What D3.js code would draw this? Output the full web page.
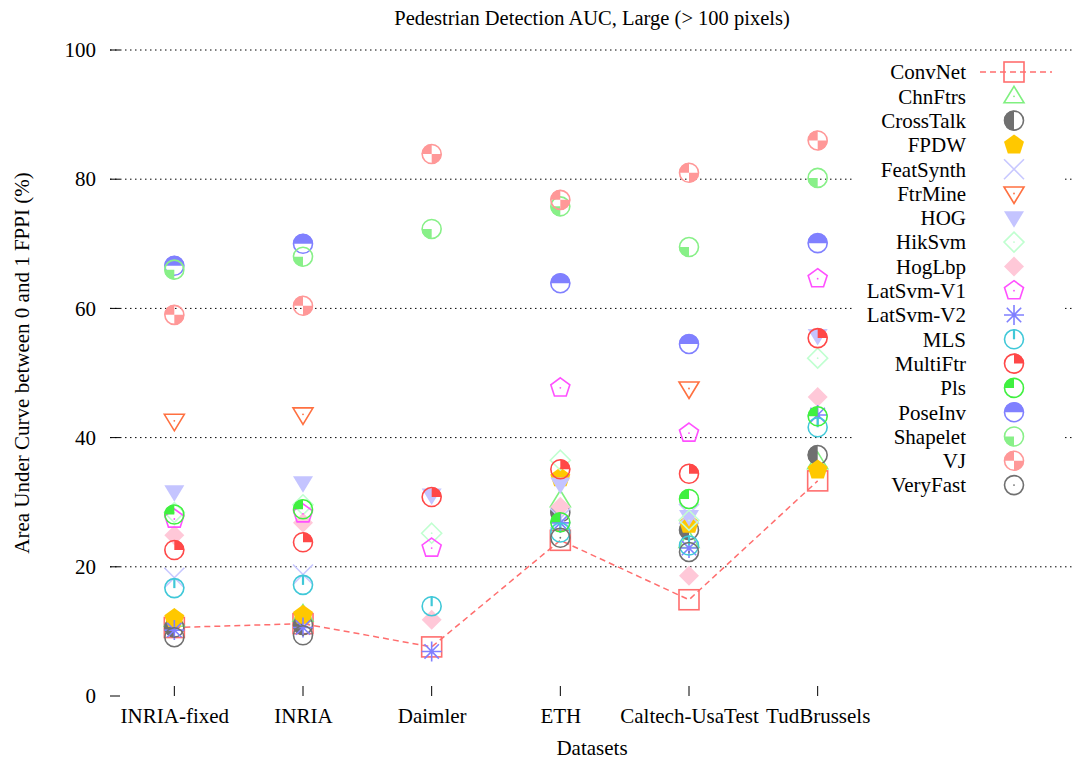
<!DOCTYPE html>
<html>
<head>
<meta charset="utf-8">
<script src="https://cdn.jsdelivr.net/npm/d3@7"></script>
<style>
  html, body { margin: 0; padding: 0; background: #fff; }
  svg text { font-family: "Liberation Serif", "DejaVu Serif", serif; fill: #000; }
</style>
</head>
<body>
<svg id="chart" width="1075" height="763"></svg>
<script>
// Datasets on the x axis
const datasets = ["INRIA-fixed", "INRIA", "Daimler", "ETH", "Caltech-UsaTest", "TudBrussels"];

// AUC (%) per detector, one value per dataset (null = not evaluated)
const convNet   = [10.6, 11.2,  7.6, 24.1, 14.9, 33.3];
const chnFtrs   = [11.8, 12.6, null, 30.3, 24.0, 36.2];
const crossTalk = [10.6, 11.0, null, 28.4, 25.7, 37.3];
const fpdw      = [12.0, 12.5, null, 33.8, 26.6, 35.0];
const featSynth = [18.3, 18.8, null, 27.5, 28.2, null];
const ftrMine   = [42.6, 43.6, null, null, 47.6, null];
const hog       = [31.6, 33.0, 31.1, 32.8, 27.8, 55.8];
const hikSvm    = [28.4, 29.6, 25.2, 36.5, 27.2, 52.3];
const hogLbp    = [24.9, 26.8, 11.8, 29.3, 18.6, 46.3];
const latSvmV1  = [27.4, 28.2, 22.9, 47.7, 40.7, 64.6];
const latSvmV2  = [10.2, 10.6,  6.9, 26.8, 22.9, 43.5];
const mls       = [16.7, 17.2, 13.9, 25.3, 23.3, 41.6];
const multiFtr  = [22.6, 23.8, 30.8, 35.1, 34.4, 55.4];
const pls       = [28.1, 28.9, null, 26.9, 30.5, 43.3];
const poseInv   = [66.6, 70.0, null, 63.9, 54.5, 70.1];
const shapelet  = [66.0, 68.0, 72.3, 75.8, 69.5, 80.2];
const vj        = [59.0, 60.4, 83.9, 76.8, 81.0, 86.0];
const veryFast  = [ 9.1,  9.4, null, 24.5, 22.3, null];

const yTicks = [0, 20, 40, 60, 80, 100];

// Series in legend / drawing order
const series = [
  { name: "ConvNet",    values: convNet,   color: "#ff6e6e", marker: "square",  line: true },
  { name: "ChnFtrs",    values: chnFtrs,   color: "#80f080", marker: "triUp" },
  { name: "CrossTalk",  values: crossTalk, color: "#707070", marker: "halfLeft" },
  { name: "FPDW",       values: fpdw,      color: "#ffc800", marker: "pentFill" },
  { name: "FeatSynth",  values: featSynth, color: "#c8c8ff", marker: "cross" },
  { name: "FtrMine",    values: ftrMine,   color: "#ff7040", marker: "triDown" },
  { name: "HOG",        values: hog,       color: "#c4c4ff", marker: "triDownFill" },
  { name: "HikSvm",     values: hikSvm,    color: "#c0ffd0", marker: "diamond" },
  { name: "HogLbp",     values: hogLbp,    color: "#ffc8d8", marker: "diamondFill" },
  { name: "LatSvm-V1",  values: latSvmV1,  color: "#ff50ff", marker: "pent" },
  { name: "LatSvm-V2",  values: latSvmV2,  color: "#8080ff", marker: "star" },
  { name: "MLS",        values: mls,       color: "#40c8d8", marker: "mls" },
  { name: "MultiFtr",   values: multiFtr,  color: "#ff4848", marker: "qTR" },
  { name: "Pls",        values: pls,       color: "#40f040", marker: "qTL" },
  { name: "PoseInv",    values: poseInv,   color: "#8080ff", marker: "halfTop" },
  { name: "Shapelet",   values: shapelet,  color: "#88f088", marker: "qBL" },
  { name: "VJ",         values: vj,        color: "#ff9898", marker: "qTLBR" },
  { name: "VeryFast",   values: veryFast,  color: "#707070", marker: "dot" }
];

const svg = d3.select("#chart");
const W = 1075, H = 763;
const margin = { left: 110, right: 0, top: 50, bottom: 67 };
const FS = "21px";

const x = d3.scaleLinear().domain([0.5, 8]).range([margin.left, W - margin.right]);
const y = d3.scaleLinear().domain([0, 100]).range([H - margin.bottom, margin.top]);

// Grid
svg.append("g").selectAll("line").data(yTicks.filter(d => d > 0)).join("line")
  .attr("x1", x(0.5)).attr("x2", x(8))
  .attr("y1", d => y(d)).attr("y2", d => y(d))
  .attr("stroke", "#000").attr("stroke-width", 1).attr("stroke-dasharray", "1.5,3.5");

// Axes
const yAxis = d3.axisLeft(y).tickValues(yTicks).tickSize(0).tickPadding(14);
const gy = svg.append("g").attr("transform", `translate(${x(0.5)},0)`).call(yAxis);
gy.select(".domain").remove();
gy.selectAll("text").style("font-size", FS);
gy.selectAll(".tk").data(yTicks).join("line").attr("class", "tk")
  .attr("x1", 0).attr("x2", 10).attr("y1", d => y(d)).attr("y2", d => y(d))
  .attr("stroke", "#000");

const xAxis = d3.axisBottom(x).tickValues(datasets.map((d, i) => i + 1))
  .tickFormat((d) => datasets[d - 1]).tickSize(0).tickPadding(12);
const gx = svg.append("g").attr("transform", `translate(0,${y(0)})`).call(xAxis);
gx.select(".domain").remove();
gx.selectAll("text").style("font-size", FS);
gx.selectAll(".tk").data(datasets).join("line").attr("class", "tk")
  .attr("x1", (d, i) => x(i + 1)).attr("x2", (d, i) => x(i + 1))
  .attr("y1", 0).attr("y2", -10).attr("stroke", "#000");

// Titles
svg.append("text").attr("x", 592).attr("y", 25).attr("text-anchor", "middle")
  .style("font-size", "20.5px").text("Pedestrian Detection AUC, Large (> 100 pixels)");
svg.append("text").attr("x", 592).attr("y", 755).attr("text-anchor", "middle")
  .style("font-size", FS).text("Datasets");
svg.append("text").attr("transform", `translate(29,363) rotate(-90)`)
  .attr("text-anchor", "middle").style("font-size", FS)
  .text("Area Under Curve between 0 and 1 FPPI (%)");

// Marker drawing
const R = 10;
function pentPath(r) {
  const pts = d3.range(5).map(i => {
    const a = -Math.PI / 2 + i * 2 * Math.PI / 5;
    return [r * Math.cos(a), r * Math.sin(a)];
  });
  return "M" + pts.map(p => p.join(",")).join("L") + "Z";
}
function quad(q, r) {
  if (q === "TR") return `M0,0L0,${-r}A${r},${r} 0 0 1 ${r},0Z`;
  if (q === "TL") return `M0,0L${-r},0A${r},${r} 0 0 1 0,${-r}Z`;
  if (q === "BL") return `M0,0L0,${r}A${r},${r} 0 0 1 ${-r},0Z`;
  if (q === "BR") return `M0,0L${r},0A${r},${r} 0 0 1 0,${r}Z`;
}
function drawMarker(g, type, color) {
  const sw = 1.6;
  const circle = () => g.append("circle").attr("r", R - 0.5).attr("fill", "none")
    .attr("stroke", color).attr("stroke-width", sw);
  const dot = () => g.append("circle").attr("r", 0.9).attr("fill", color);
  const fillPath = d => g.append("path").attr("d", d).attr("fill", color);
  switch (type) {
    case "square":
      g.append("rect").attr("x", -R).attr("y", -R).attr("width", 2 * R).attr("height", 2 * R)
        .attr("fill", "none").attr("stroke", color).attr("stroke-width", sw);
      break;
    case "triUp":
      g.append("path").attr("d", `M0,${-R}L${R},${R * 0.65}L${-R},${R * 0.65}Z`)
        .attr("fill", "none").attr("stroke", color).attr("stroke-width", sw);
      dot();
      break;
    case "triDown":
      g.append("path").attr("d", `M0,${R}L${R},${-R * 0.65}L${-R},${-R * 0.65}Z`)
        .attr("fill", "none").attr("stroke", color).attr("stroke-width", sw);
      dot();
      break;
    case "triDownFill":
      fillPath(`M0,${R}L${R},${-R * 0.65}L${-R},${-R * 0.65}Z`);
      break;
    case "diamond":
      g.append("path").attr("d", `M0,${-R}L${R},0L0,${R}L${-R},0Z`)
        .attr("fill", "none").attr("stroke", color).attr("stroke-width", sw);
      dot();
      break;
    case "diamondFill":
      fillPath(`M0,${-R}L${R},0L0,${R}L${-R},0Z`);
      break;
    case "pent":
      g.append("path").attr("d", pentPath(R)).attr("fill", "none")
        .attr("stroke", color).attr("stroke-width", sw);
      dot();
      break;
    case "pentFill":
      fillPath(pentPath(R + 0.5));
      break;
    case "cross":
      g.append("path").attr("d", `M${-R},${-R}L${R},${R}M${R},${-R}L${-R},${R}`)
        .attr("stroke", color).attr("stroke-width", sw);
      break;
    case "star": {
      const s = R * 0.72;
      g.append("path")
        .attr("d", `M0,${-R}L0,${R}M${-R},0L${R},0M${-s},${-s}L${s},${s}M${s},${-s}L${-s},${s}`)
        .attr("stroke", color).attr("stroke-width", sw);
      break;
    }
    case "mls":
      circle();
      g.append("path").attr("d", `M0,${-R}L0,0`).attr("stroke", color).attr("stroke-width", 2.2);
      break;
    case "halfLeft":
      fillPath(`M0,${-R}A${R},${R} 0 0 0 0,${R}Z`);
      circle();
      break;
    case "halfTop":
      fillPath(`M${-R},0A${R},${R} 0 0 1 ${R},0Z`);
      circle();
      break;
    case "qTR": fillPath(quad("TR", R)); circle(); break;
    case "qTL": fillPath(quad("TL", R)); circle(); break;
    case "qBL": fillPath(quad("BL", R)); circle(); break;
    case "qTLBR": fillPath(quad("TL", R)); fillPath(quad("BR", R)); circle(); break;
    case "dot": circle(); dot(); break;
  }
}

// Series marks
const plot = svg.append("g");
series.forEach(s => {
  const pts = s.values.map((v, i) => ({ i: i + 1, v })).filter(p => p.v !== null);
  if (s.line) {
    plot.append("path").datum(pts)
      .attr("d", d3.line().x(p => x(p.i)).y(p => y(p.v)))
      .attr("fill", "none").attr("stroke", s.color).attr("stroke-width", 1.5)
      .attr("stroke-dasharray", "6,4");
  }
  pts.forEach(p => {
    const g = plot.append("g").attr("transform", `translate(${x(p.i)},${y(p.v)})`);
    drawMarker(g, s.marker, s.color);
  });
});

// Legend
const legX = 966, legY0 = 72, legDy = 24.3;
svg.append("rect").attr("x", 852).attr("y", 58).attr("width", 210).attr("height", 440).attr("fill", "#fff");
const leg = svg.append("g");
series.forEach((s, k) => {
  const yy = legY0 + k * legDy;
  leg.append("text").attr("x", legX).attr("y", yy).attr("dy", "0.35em")
    .attr("text-anchor", "end").style("font-size", FS).text(s.name);
  if (s.line) {
    leg.append("line").attr("x1", 980).attr("x2", 1052).attr("y1", yy).attr("y2", yy)
      .attr("stroke", s.color).attr("stroke-width", 1.5).attr("stroke-dasharray", "6,4");
  }
  const g = leg.append("g").attr("transform", `translate(1014,${yy})`);
  drawMarker(g, s.marker, s.color);
});
</script>
</body>
</html>
